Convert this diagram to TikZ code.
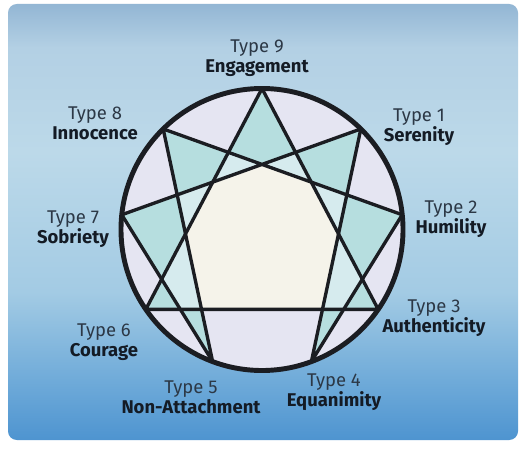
\documentclass[tikz,border=0pt]{standalone}
\usepackage{fontspec}
\setmainfont{Fira Sans}
\usetikzlibrary{calc}

\definecolor{inkline}{HTML}{1B1D22}
\definecolor{typegray}{HTML}{2C3846}
\definecolor{namedark}{HTML}{141B25}
\definecolor{ringlav}{HTML}{E5E5F2}
\definecolor{ringpale}{HTML}{D6EBEE}
\definecolor{tipteal}{HTML}{B6DEDF}
\definecolor{corecream}{HTML}{F5F3EA}
\definecolor{skyT}{HTML}{93B6D4}
\definecolor{skyA}{HTML}{B3D0E4}
\definecolor{skyB}{HTML}{BCD9E9}
\definecolor{skyC}{HTML}{A3CBE4}
\definecolor{skyD}{HTML}{6BA8D8}
\definecolor{skyE}{HTML}{4E94D0}

\pgfdeclareverticalshading{skyfade}{100bp}{color(0bp)=(skyE); color(25bp)=(skyE); color(31bp)=(skyD); color(42bp)=(skyC); color(58bp)=(skyB); color(70bp)=(skyA); color(75bp)=(skyT); color(100bp)=(skyT)}

\newcommand{\typename}[2]{#1\\{\bfseries\color{namedark}#2}}

\tikzset{
  chord/.style={draw=inkline, line width=1.9pt, line join=round, line cap=round},
  rim/.style={draw=inkline, line width=2.8pt},
  typelbl/.style={align=center, text=typegray, font=\fontsize{10.5}{11.3}\selectfont, inner sep=0pt},
}

\begin{document}
\begin{tikzpicture}[x=0.02cm, y=-0.02cm]
  \useasboundingbox (0,0) rectangle (526,452);
  \fill[white] (0,0) rectangle (526,452);
  \shade[shading=skyfade, rounded corners=5] (8,4) rectangle (518,440);

  \coordinate (O) at (262,229.5);
  \coordinate (T9) at ($(O)+(-90:141)$);
  \coordinate (T1) at ($(O)+(-45.5:141)$);
  \coordinate (T2) at ($(O)+(-6:141)$);
  \coordinate (T3) at ($(O)+(34.5:141)$);
  \coordinate (T4) at ($(O)+(69.5:141)$);
  \coordinate (T5) at ($(O)+(110.5:141)$);
  \coordinate (T6) at ($(O)+(145.5:141)$);
  \coordinate (T7) at ($(O)+(186:141)$);
  \coordinate (T8) at ($(O)+(225.5:141)$);

  % outer corners of the star
  \coordinate (X91) at (intersection of T9--T3 and T1--T7);
  \coordinate (X12) at (intersection of T1--T4 and T2--T8);
  \coordinate (X23) at (intersection of T2--T4 and T3--T9);
  \coordinate (X34) at (intersection of T3--T6 and T4--T2);
  \coordinate (X56) at (intersection of T5--T7 and T6--T3);
  \coordinate (X67) at (intersection of T6--T9 and T7--T5);
  \coordinate (X78) at (intersection of T7--T1 and T8--T5);
  \coordinate (X89) at (intersection of T8--T2 and T9--T6);

  % middle patch
  \coordinate (C1) at (intersection of T7--T1 and T8--T2);
  \coordinate (C2) at (intersection of T8--T2 and T9--T3);
  \coordinate (C3) at (intersection of T9--T3 and T1--T4);
  \coordinate (C4) at (intersection of T1--T4 and T3--T6);
  \coordinate (C5) at (intersection of T3--T6 and T5--T8);
  \coordinate (C6) at (intersection of T5--T8 and T9--T6);
  \coordinate (C7) at (intersection of T9--T6 and T7--T1);

  \fill[ringlav] (O) circle[radius=141];
  \fill[ringpale] (T9)--(X91)--(T1)--(X12)--(T2)--(X23)--(T3)--(X34)--(T4)--(C4)--(C5)
    --(T5)--(X56)--(T6)--(X67)--(T7)--(X78)--(T8)--(X89)--cycle;
  \fill[tipteal, even odd rule] (T9)--(T3)--(T6)--cycle
    (T1)--(T4)--(T2)--(T8)--(T5)--(T7)--cycle;
  \fill[corecream] (C1)--(C2)--(C3)--(C4)--(C5)--(C6)--(C7)--cycle;

  \draw[chord] (T9)--(T3)--(T6)--cycle;
  \draw[chord] (T1)--(T4)--(T2)--(T8)--(T5)--(T7)--cycle;
  \draw[rim] (O) circle[radius=141];

  \node[typelbl] (L9) at (257,58) {\typename{Type 9}{Engagement}};
  \node[typelbl] (L1) at (419,127) {\typename{Type 1}{Serenity}};
  \node[typelbl] (L2) at (451,219) {\typename{Type 2}{Humility}};
  \node[typelbl] (L3) at (434,318) {\typename{Type 3}{Authenticity}};
  \node[typelbl] (L4) at (334,392) {\typename{Type 4}{Equanimity}};
  \node[typelbl] (L5) at (191,397) {\typename{Type 5}{Non-Attachment}};
  \node[typelbl] (L6) at (104,342) {\typename{Type 6}{Courage}};
  \node[typelbl] (L7) at (73,229) {\typename{Type 7}{Sobriety}};
  \node[typelbl] (L8) at (95,123) {\typename{Type 8}{Innocence}};
\end{tikzpicture}
\end{document}
